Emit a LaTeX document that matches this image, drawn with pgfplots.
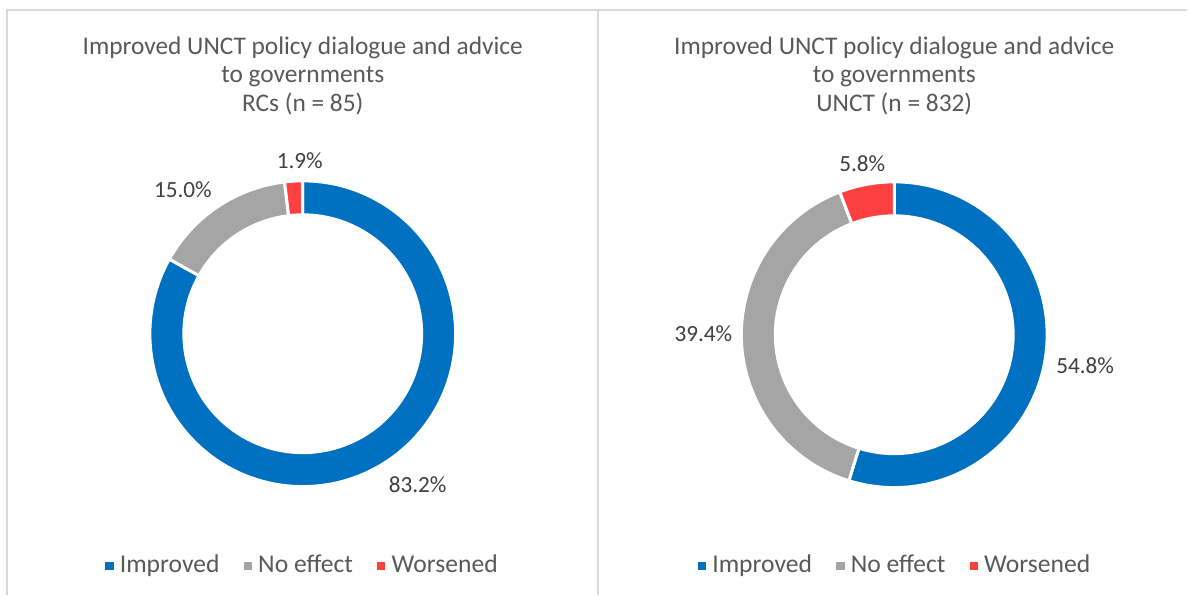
\documentclass[border=0pt]{standalone}
\usepackage{pgfplots}
\pgfplotsset{compat=1.18}
\usepackage{pgfplotstable}
\usepackage{fontspec}
\setmainfont{Carlito}
\definecolor{cBlue}{HTML}{0070C0}
\definecolor{cGray}{HTML}{A5A5A5}
\definecolor{cRed}{HTML}{FF4040}
\definecolor{cText}{HTML}{595959}
\definecolor{cLabel}{HTML}{404040}
\definecolor{cBorder}{HTML}{D9D9D9}

% shares in percent, order: Improved, No effect, Worsened (clockwise from 12 o'clock)
\pgfplotstableread{
category value
Improved 83.2
NoEffect 15.0
Worsened 1.9
}\rcdata
\pgfplotstableread{
category value
Improved 54.8
NoEffect 39.4
Worsened 5.8
}\unctdata

\pgfplotstablegetelem{0}{value}\of\rcdata \let\RCa\pgfplotsretval
\pgfplotstablegetelem{1}{value}\of\rcdata \let\RCb\pgfplotsretval
\pgfplotstablegetelem{2}{value}\of\rcdata \let\RCc\pgfplotsretval
\pgfmathsetmacro\RCsum{\RCa+\RCb+\RCc}
\pgfmathsetmacro\RCA{90-\RCa/\RCsum*360}
\pgfmathsetmacro\RCB{\RCA-\RCb/\RCsum*360}

\pgfplotstablegetelem{0}{value}\of\unctdata \let\UNa\pgfplotsretval
\pgfplotstablegetelem{1}{value}\of\unctdata \let\UNb\pgfplotsretval
\pgfplotstablegetelem{2}{value}\of\unctdata \let\UNc\pgfplotsretval
\pgfmathsetmacro\UNsum{\UNa+\UNb+\UNc}
\pgfmathsetmacro\UNA{90-\UNa/\UNsum*360}
\pgfmathsetmacro\UNB{\UNA-\UNb/\UNsum*360}

\def\Ro{76.5pt}
\def\Ri{59.5pt}
% colour, cx, cy, start angle, end angle
\newcommand\ringseg[5]{%
  \fill[#1, draw=white, line width=1.5pt]
    ([shift={(#4:\Ro)}]axis cs:#2,#3) arc[start angle=#4, end angle=#5, radius=\Ro]
    -- ([shift={(#5:\Ri)}]axis cs:#2,#3) arc[start angle=#5, end angle=#4, radius=\Ri]
    -- cycle;}
\newcommand\pct[1]{\pgfmathprintnumber[fixed,precision=1,fixed zerofill,assume math mode=true]{#1}\%}

\tikzset{
  titlefont/.style={font=\fontsize{12.7}{14.5}\selectfont, text=cText, align=center},
  lblfont/.style={font=\fontsize{11.6}{13}\selectfont, text=cLabel},
}
\pgfplotsset{
  panel/.style={
    hide axis, scale only axis,
    x=0.5pt, y=0.5pt,
    xmin=0, xmax=1188, ymin=0, ymax=595,
    y dir=reverse, clip=false,
    at={(0,0)}, anchor=south west,
    legend columns=3,
    legend style={draw=none, fill=none, anchor=center,
      font=\fontsize{12.8}{15}\selectfont, text=cText,
      nodes={inner xsep=1.2pt},
      /tikz/every even column/.append style={column sep=11pt},
      /tikz/every odd column/.append style={column sep=2pt}},
  },
}

\begin{document}
\begin{tikzpicture}
\begin{axis}[panel, legend style={at={(axis cs:303,566)}}]
  \path[fill=white] (axis cs:0,0) rectangle (axis cs:1188,595);
  \draw[cBorder, line width=1pt] (axis cs:7,595) -- (axis cs:7,10) -- (axis cs:1188,10);
  \draw[cBorder, line width=1pt] (axis cs:598,10) -- (axis cs:598,595);
  \addlegendimage{legend image code/.code={\fill[cBlue] (0pt,-1.8pt) rectangle (3.6pt,1.8pt);}}
  \addlegendentry{Improved}
  \addlegendimage{legend image code/.code={\fill[cGray] (0pt,-1.8pt) rectangle (3.6pt,1.8pt);}}
  \addlegendentry{No effect}
  \addlegendimage{legend image code/.code={\fill[cRed] (0pt,-1.8pt) rectangle (3.6pt,1.8pt);}}
  \addlegendentry{Worsened}
  \ringseg{cBlue}{303}{334}{90}{\RCA}
  \ringseg{cGray}{303}{334}{\RCA}{\RCB}
  \ringseg{cRed}{303}{334}{\RCB}{-270}
  \node[titlefont] at (axis cs:303,76) {Improved UNCT policy dialogue and advice\\to governments\\RCs (n = 85)};
  \node[lblfont] at (axis cs:418,485) {\pct{\RCa}};
  \node[lblfont] at (axis cs:183,190) {\pct{\RCb}};
  \node[lblfont] at (axis cs:300,161) {\pct{\RCc}};
\end{axis}
\begin{axis}[panel, legend style={at={(axis cs:896,566)}}]
  \addlegendimage{legend image code/.code={\fill[cBlue] (0pt,-1.8pt) rectangle (3.6pt,1.8pt);}}
  \addlegendentry{Improved}
  \addlegendimage{legend image code/.code={\fill[cGray] (0pt,-1.8pt) rectangle (3.6pt,1.8pt);}}
  \addlegendentry{No effect}
  \addlegendimage{legend image code/.code={\fill[cRed] (0pt,-1.8pt) rectangle (3.6pt,1.8pt);}}
  \addlegendentry{Worsened}
  \ringseg{cBlue}{895}{335}{90}{\UNA}
  \ringseg{cGray}{895}{335}{\UNA}{\UNB}
  \ringseg{cRed}{895}{335}{\UNB}{-270}
  \node[titlefont] at (axis cs:895,76) {Improved UNCT policy dialogue and advice\\to governments\\UNCT (n = 832)};
  \node[lblfont] at (axis cs:1086,366) {\pct{\UNa}};
  \node[lblfont] at (axis cs:704,334) {\pct{\UNb}};
  \node[lblfont] at (axis cs:863,164) {\pct{\UNc}};
\end{axis}
\end{tikzpicture}
\end{document}
